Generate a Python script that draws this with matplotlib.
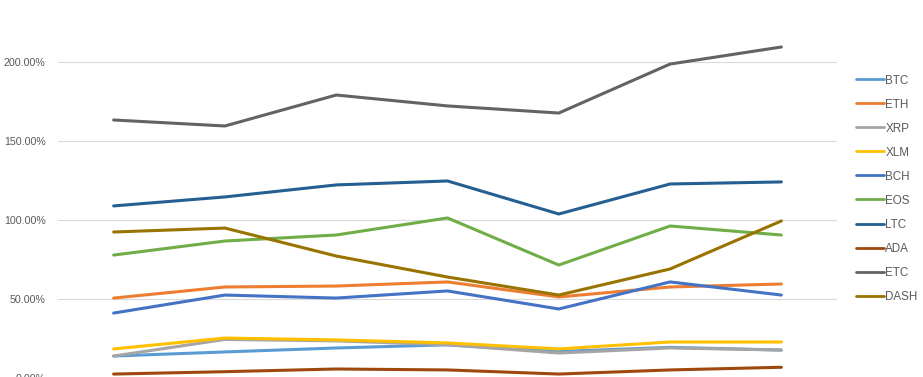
import matplotlib
matplotlib.use("Agg")
import matplotlib.pyplot as plt
from matplotlib.ticker import PercentFormatter

# data (percent)
categories = ["1", "2", "3", "4", "5", "6", "7"]
btc = [13.9, 16.5, 19.0, 21.0, 16.8, 19.4, 17.7]
eth = [50.6, 57.6, 58.2, 60.8, 51.3, 57.6, 59.5]
xrp = [13.9, 24.4, 23.5, 21.0, 15.8, 19.0, 17.7]
xlm = [18.4, 25.3, 24.1, 22.2, 18.4, 22.8, 22.8]
bch = [41.1, 52.5, 50.6, 55.1, 43.7, 60.8, 52.5]
eos = [77.8, 86.7, 90.5, 101.3, 71.5, 96.2, 90.5]
ltc = [108.9, 114.6, 122.2, 124.7, 103.8, 122.8, 124.1]
ada = [2.5, 4.0, 5.7, 5.1, 2.5, 5.1, 6.8]
etc = [163.3, 159.5, 179.1, 172.2, 167.7, 198.7, 209.5]
dash = [92.4, 94.9, 77.2, 63.9, 52.5, 69.0, 99.4]

names = ["BTC", "ETH", "XRP", "XLM", "BCH", "EOS", "LTC", "ADA", "ETC", "DASH"]
series = [btc, eth, xrp, xlm, bch, eos, ltc, ada, etc, dash]
colors = ["#5B9BD5", "#ED7D31", "#A5A5A5", "#FFC000", "#4472C4",
          "#70AD47", "#255E91", "#9E480E", "#636363", "#997300"]

W, H = 923, 377
fig = plt.figure(figsize=(W / 100, H / 100), dpi=100)
# plot area: x 58..837 px, y value 0 at 378 px, 250% at -17 px
ax = fig.add_axes([58 / W, (H - 378) / H, (837 - 58) / W, 395 / H])

x = list(range(len(categories)))
for vals, name, c in zip(series, names, colors):
    ax.plot(x, vals, color=c, lw=2.2, label=name, solid_capstyle="round")

ax.set_xlim(-0.5, len(categories) - 0.5)
ax.set_ylim(0, 250)
ax.set_yticks([0, 50, 100, 150, 200])
ax.yaxis.set_major_formatter(PercentFormatter(decimals=2))
ax.set_xticks(x)
ax.set_xticklabels(categories)
ax.grid(axis="y", color="#D9D9D9", lw=0.8)
ax.set_axisbelow(True)
for s in ax.spines.values():
    s.set_visible(False)
# category labels sit below the cropped edge of the picture
ax.tick_params(axis="x", labelbottom=False, length=0)
ax.tick_params(axis="y", length=0, pad=9, labelsize=7.7, labelcolor="#595959")
for lab in ax.get_yticklabels():
    lab.set_fontfamily("Liberation Sans")

leg = fig.legend(loc="upper left", bbox_to_anchor=(845 / W, 1 - 64 / H),
                 frameon=False, handlelength=2.4, handletextpad=0.15,
                 labelspacing=1.03, prop={"family": "Liberation Sans", "size": 8.4})
for t in leg.get_texts():
    t.set_color("#595959")
for h in leg.get_lines():
    h.set_linewidth(2.0)

fig.savefig("out.png", dpi=100)
